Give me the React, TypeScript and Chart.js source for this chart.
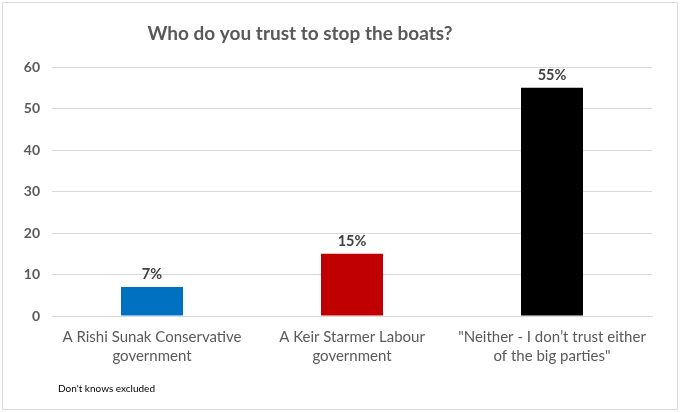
import React, { useEffect, useRef } from 'react';
import { Chart, registerables, Plugin } from 'chart.js';

Chart.register(...registerables);

const categories: string[][] = [
  ['A Rishi Sunak Conservative', 'government'],
  ['A Keir Starmer Labour', 'government'],
  ['"Neither - I don\u2019t trust either', 'of the big parties"'],
];
const values: number[] = [7, 15, 55];
const barColors: string[] = ['#0070C0', '#C00000', '#000000'];
const titleText = 'Who do you trust to stop the boats?';
const footnote = "Don't knows excluded";

const FONT = 'Lato, "Open Sans", sans-serif';

// title, footnote, frame and value labels
const decorations: Plugin<'bar'> = {
  id: 'decorations',
  beforeDraw(chart) {
    const ctx = chart.ctx;
    ctx.save();
    ctx.fillStyle = '#ffffff';
    ctx.fillRect(0, 0, chart.width, chart.height);
    ctx.strokeStyle = '#d9d9d9';
    ctx.lineWidth = 1;
    ctx.strokeRect(2.5, 2.5, chart.width - 5, chart.height - 5);
    ctx.restore();
  },
  afterDatasetsDraw(chart) {
    const ctx = chart.ctx;
    ctx.save();
    const meta = chart.getDatasetMeta(0);
    ctx.font = `bold 14.5px ${FONT}`;
    ctx.fillStyle = '#404040';
    ctx.textAlign = 'center';
    ctx.textBaseline = 'bottom';
    meta.data.forEach((bar, i) => {
      ctx.fillText(values[i] + '%', bar.x, bar.y - 5);
    });

    ctx.font = `bold 19px ${FONT}`;
    ctx.fillStyle = '#595959';
    ctx.textBaseline = 'middle';
    ctx.fillText(titleText, 300, 34);

    ctx.font = `10px ${FONT}`;
    ctx.fillStyle = '#000000';
    ctx.textAlign = 'left';
    ctx.fillText(footnote, 58, 389);
    ctx.restore();
  },
};

const App: React.FC = () => {
  const canvasRef = useRef<HTMLCanvasElement | null>(null);

  useEffect(() => {
    document.body.style.margin = '0';
    if (!canvasRef.current) return;
    const chart = new Chart(canvasRef.current, {
      type: 'bar',
      data: {
        labels: categories,
        datasets: [
          {
            data: values,
            backgroundColor: barColors,
            borderWidth: 0,
            barPercentage: 0.31,
            categoryPercentage: 1,
          },
        ],
      },
      options: {
        responsive: false,
        animation: false,
        layout: { padding: { top: 67, right: 28, left: 0, bottom: 0 } },
        plugins: {
          legend: { display: false },
          title: { display: false },
          tooltip: { enabled: false },
        },
        scales: {
          x: {
            grid: { display: false, drawTicks: false },
            border: { display: true, color: '#d9d9d9', width: 1 },
            ticks: {
              color: '#595959',
              font: { family: FONT, size: 15, lineHeight: 1.3 },
              padding: 11,
              maxRotation: 0,
              autoSkip: false,
            },
            afterFit(scale) {
              scale.height = 96;
            },
          },
          y: {
            min: 0,
            max: 60,
            grid: { color: '#d9d9d9', drawTicks: false },
            border: { display: false },
            ticks: {
              stepSize: 10,
              color: '#595959',
              font: { family: FONT, size: 14, weight: 'bold' },
              padding: 12,
            },
            afterFit(scale) {
              scale.width = 52;
            },
          },
        },
      },
      plugins: [decorations],
    });
    return () => chart.destroy();
  }, []);

  return (
    <div style={{ width: 680, height: 412 }}>
      <canvas ref={canvasRef} width={680} height={412} style={{ display: 'block' }} />
    </div>
  );
};

export default App;
